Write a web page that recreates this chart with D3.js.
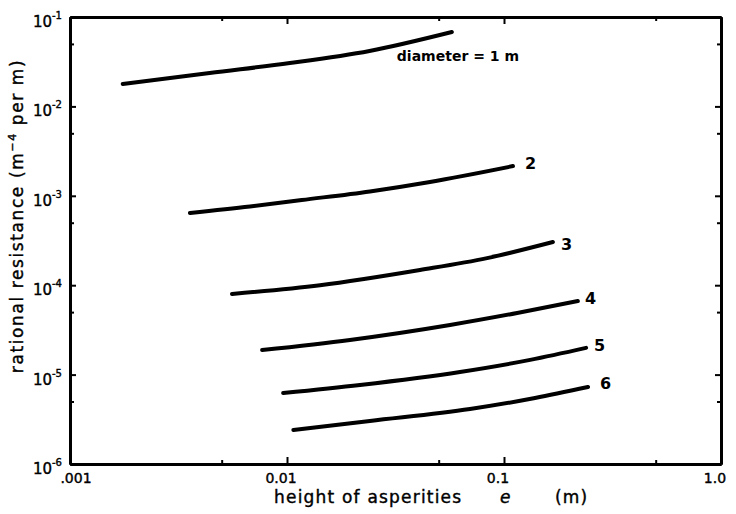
<!DOCTYPE html>
<html>
<head>
<meta charset="utf-8">
<script src="https://cdn.jsdelivr.net/npm/d3@7"></script>
<style>
  body { margin: 0; background: #fff; }
  text { font-family: "DejaVu Sans", sans-serif; fill: #000; }
</style>
</head>
<body>
<div id="chart"></div>
<script>
// diameters (m) and curve values: [e (m), resistance]
var diameters = [1, 2, 3, 4, 5, 6];
var curveLabels = ["diameter = 1 m", "2", "3", "4", "5", "6"];
var curve1 = [[0.00175, 0.0178], [0.0044, 0.0237], [0.0103, 0.0305], [0.024, 0.0417], [0.0575, 0.068]];
var curve2 = [[0.00357, 0.000643], [0.00675, 0.000759], [0.0117, 0.000897], [0.0241, 0.00112], [0.0456, 0.00143], [0.11, 0.00215]];
var curve3 = [[0.00558, 7.98e-5], [0.0142, 1.0e-4], [0.041, 1.48e-4], [0.0836, 2.01e-4], [0.168, 3.04e-4]];
var curve4 = [[0.00768, 1.88e-5], [0.0195, 2.44e-5], [0.0564, 3.59e-5], [0.115, 4.89e-5], [0.219, 6.65e-5]];
var curve5 = [[0.0096, 6.22e-6], [0.0217, 7.66e-6], [0.0627, 1.07e-5], [0.132, 1.46e-5], [0.239, 1.99e-5]];
var curve6 = [[0.0107, 2.40e-6], [0.0241, 3.03e-6], [0.0697, 4.12e-6], [0.139, 5.47e-6], [0.244, 7.26e-6]];
var curves = [curve1, curve2, curve3, curve4, curve5, curve6];

// axis ticks
var xMajor = [0.001, 0.01, 0.1, 1];
var xMajorLabels = [".001", "0.01", "0.1", "1.0"];
var xMinor = [0.005, 0.05, 0.5];
var yMajor = [1e-1, 1e-2, 1e-3, 1e-4, 1e-5, 1e-6];
var yMajorExp = ["-1", "-2", "-3", "-4", "-5", "-6"];
var yMinor = [5e-2, 5e-3, 5e-4, 5e-5, 5e-6];

var W = 736, H = 514;
var svg = d3.select("#chart").append("svg")
  .attr("width", W)
  .attr("height", H);

var x = d3.scaleLog().domain([0.001, 1]).range([70, 721]);
var y = d3.scaleLog().domain([1e-6, 1e-1]).range([464, 17]);

// frame with inward ticks
function frameAxis(axis, tr) {
  var g = svg.append("g").attr("transform", tr).call(axis);
  g.select(".domain").attr("stroke", "#000").attr("stroke-width", 3);
  g.selectAll(".tick line").attr("stroke", "#000").attr("stroke-width", 2);
  return g;
}
var y0 = y.range()[0], y1 = y.range()[1], x0 = x.range()[0], x1 = x.range()[1];

frameAxis(d3.axisBottom(x).tickValues(xMajor).tickSize(-7).tickSizeOuter(0).tickFormat(""), "translate(0," + y0 + ")");
frameAxis(d3.axisBottom(x).tickValues(xMinor).tickSize(-4).tickSizeOuter(0).tickFormat(""), "translate(0," + y0 + ")");
frameAxis(d3.axisTop(x).tickValues(xMajor).tickSize(-7).tickSizeOuter(0).tickFormat(""), "translate(0," + y1 + ")");
frameAxis(d3.axisTop(x).tickValues(xMinor).tickSize(-4).tickSizeOuter(0).tickFormat(""), "translate(0," + y1 + ")");
frameAxis(d3.axisLeft(y).tickValues(yMajor).tickSize(-6).tickSizeOuter(0).tickFormat(""), "translate(" + x0 + ",0)");
frameAxis(d3.axisLeft(y).tickValues(yMinor).tickSize(-4).tickSizeOuter(0).tickFormat(""), "translate(" + x0 + ",0)");
frameAxis(d3.axisRight(y).tickValues(yMajor).tickSize(-6).tickSizeOuter(0).tickFormat(""), "translate(" + x1 + ",0)");
frameAxis(d3.axisRight(y).tickValues(yMinor).tickSize(-4).tickSizeOuter(0).tickFormat(""), "translate(" + x1 + ",0)");

// x tick labels
svg.append("g").selectAll("text")
  .data(xMajor)
  .enter().append("text")
  .attr("x", function(d, i) { return x(d) + (i == 0 ? 6 : -6); })
  .attr("y", y0 + 19)
  .attr("text-anchor", "middle")
  .attr("font-size", 14)
  .attr("stroke", "#000").attr("stroke-width", 0.4)
  .text(function(d, i) { return xMajorLabels[i]; });

// y tick labels 10^n
var yl = svg.append("g").selectAll("text")
  .data(yMajor)
  .enter().append("text")
  .attr("x", x0 - 8)
  .attr("y", function(d) { return y(d) + 10; })
  .attr("text-anchor", "end")
  .attr("font-size", 15)
  .attr("stroke", "#000").attr("stroke-width", 0.4);
yl.append("tspan").text("10");
yl.append("tspan")
  .attr("font-size", 10)
  .attr("dy", -8)
  .text(function(d, i) { return yMajorExp[i]; });

// curves
var line = d3.line()
  .x(function(d) { return x(d[0]); })
  .y(function(d) { return y(d[1]); })
  .curve(d3.curveMonotoneX);

svg.append("g").selectAll("path")
  .data(curves)
  .enter().append("path")
  .attr("fill", "none")
  .attr("stroke", "#000")
  .attr("stroke-width", 4)
  .attr("stroke-linecap", "round")
  .attr("d", line);

// curve labels, offset from each curve's last point
var labelDx = [-55, 12, 8, 7, 8, 12];
var labelDy = [29, 3, 8, 3, 3, 2];
svg.append("g").selectAll("text")
  .data(curves)
  .enter().append("text")
  .attr("x", function(d, i) { return x(d[d.length - 1][0]) + labelDx[i]; })
  .attr("y", function(d, i) { return y(d[d.length - 1][1]) + labelDy[i]; })
  .attr("font-size", function(d, i) { return i == 0 ? 14 : 16; })
  .attr("font-weight", "bold")
  .text(function(d, i) { return curveLabels[i]; });

// axis titles
var xt = svg.append("text")
  .attr("x", 274)
  .attr("y", 503)
  .attr("font-size", 17)
  .attr("letter-spacing", 1.2)
  .attr("stroke", "#000").attr("stroke-width", 0.4);
xt.append("tspan").text("height of asperities");
xt.append("tspan").attr("x", 500).attr("font-style", "italic").text("e");
xt.append("tspan").attr("x", 555).text("(m)");

var yt = svg.append("text")
  .attr("transform", "translate(23,216)rotate(-90)")
  .attr("text-anchor", "middle")
  .attr("font-size", 17)
  .attr("letter-spacing", 1.6)
  .attr("stroke", "#000").attr("stroke-width", 0.4);
yt.append("tspan").text("rational resistance (m");
yt.append("tspan").attr("font-size", 11).attr("dy", -7).text("−4");
yt.append("tspan").attr("dy", 7).text(" per m)");
</script>
</body>
</html>
